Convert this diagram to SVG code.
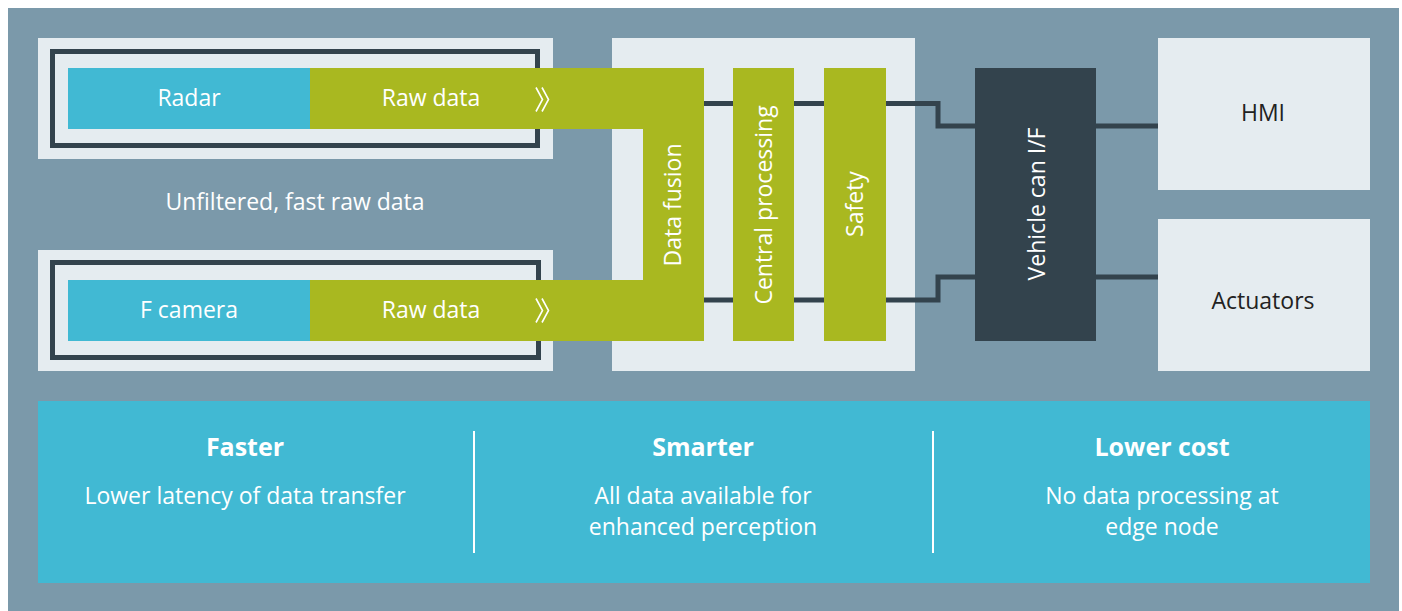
<svg xmlns="http://www.w3.org/2000/svg" width="1402" height="611" viewBox="0 0 1402 611">
<style>
.bg{fill:#7B99AA}
.light{fill:#E5ECF0}
.cyan{fill:#41B9D3}
.green{fill:#A9B820}
.dark{fill:#33434D}
.frame{fill:none;stroke:#33434D;stroke-width:5}
.conn{fill:none;stroke:#33434D;stroke-width:5}
.chev{fill:none;stroke:#FFFFFF;stroke-width:1.6}
.t{font-family:"Open Sans","Liberation Sans",sans-serif;font-size:23px;text-anchor:middle;fill:#FFFFFF}
.td{fill:#222222}
.h{font-weight:bold;font-size:25px}
.div{stroke:#FFFFFF;stroke-width:2}
</style>
<rect x="0" y="0" width="1402" height="611" fill="#FFFFFF"/>
<rect class="bg" x="8" y="8" width="1391" height="603"/>

<g id="sensor-box-top">
<rect class="light" x="38" y="38" width="515" height="121"/>
<rect class="frame" x="52.5" y="51.5" width="485" height="94"/>
</g>
<g id="sensor-box-bottom">
<rect class="light" x="38" y="250" width="515" height="121"/>
<rect class="frame" x="52.5" y="262.5" width="486" height="95"/>
</g>
<g id="ecu-box">
<rect class="light" x="612" y="38" width="303" height="333"/>
</g>

<g id="connectors">
<path class="conn" d="M704,103.5 H938 V126 H975"/>
<path class="conn" d="M704,300 H938 V277 H975"/>
<path class="conn" d="M1096,126 H1158"/>
<path class="conn" d="M1096,277 H1158"/>
</g>

<g id="raw-data-fusion">
<path class="green" d="M310,68 H704 V341 H310 V280 H643 V129 H310 Z"/>
<text class="t" x="431" y="106">Raw data</text>
<text class="t" x="431" y="318">Raw data</text>
<polyline class="chev" points="536,87.5 542.5,99.5 536,111.5"/>
<polyline class="chev" points="542,87.5 548.5,99.5 542,111.5"/>
<polyline class="chev" points="536,298.5 542.5,310.5 536,322.5"/>
<polyline class="chev" points="542,298.5 548.5,310.5 542,322.5"/>
<text class="t" transform="translate(681,205) rotate(-90)" x="0" y="0">Data fusion</text>
</g>

<g id="radar">
<rect class="cyan" x="68" y="68" width="242" height="61"/>
<text class="t" x="189" y="106">Radar</text>
</g>
<g id="f-camera">
<rect class="cyan" x="68" y="280" width="242" height="61"/>
<text class="t" x="189" y="318">F camera</text>
</g>

<text class="t" x="295" y="210">Unfiltered, fast raw data</text>

<g id="central-processing">
<rect class="green" x="733" y="68" width="61" height="273"/>
<text class="t" transform="translate(772,205) rotate(-90)" x="0" y="0">Central processing</text>
</g>
<g id="safety">
<rect class="green" x="824" y="68" width="62" height="273"/>
<text class="t" transform="translate(863,204) rotate(-90)" x="0" y="0">Safety</text>
</g>
<g id="vehicle-can">
<rect class="dark" x="975" y="68" width="121" height="273"/>
<text class="t" transform="translate(1045,204) rotate(-90)" x="0" y="0">Vehicle can I/F</text>
</g>
<g id="hmi">
<rect class="light" x="1158" y="38" width="212" height="152"/>
<text class="t td" x="1263" y="121">HMI</text>
</g>
<g id="actuators">
<rect class="light" x="1158" y="219" width="212" height="152"/>
<text class="t td" x="1263" y="309">Actuators</text>
</g>

<g id="benefits">
<rect class="cyan" x="38" y="401" width="1332" height="182"/>
<line class="div" x1="474" y1="431" x2="474" y2="553"/>
<line class="div" x1="933" y1="431" x2="933" y2="553"/>
<text class="t h" x="245" y="456">Faster</text>
<text class="t" x="245" y="504">Lower latency of data transfer</text>
<text class="t h" x="703" y="456">Smarter</text>
<text class="t" x="703" y="504">All data available for</text>
<text class="t" x="703" y="535">enhanced perception</text>
<text class="t h" x="1162" y="456">Lower cost</text>
<text class="t" x="1162" y="504">No data processing at</text>
<text class="t" x="1162" y="535">edge node</text>
</g>
</svg>
